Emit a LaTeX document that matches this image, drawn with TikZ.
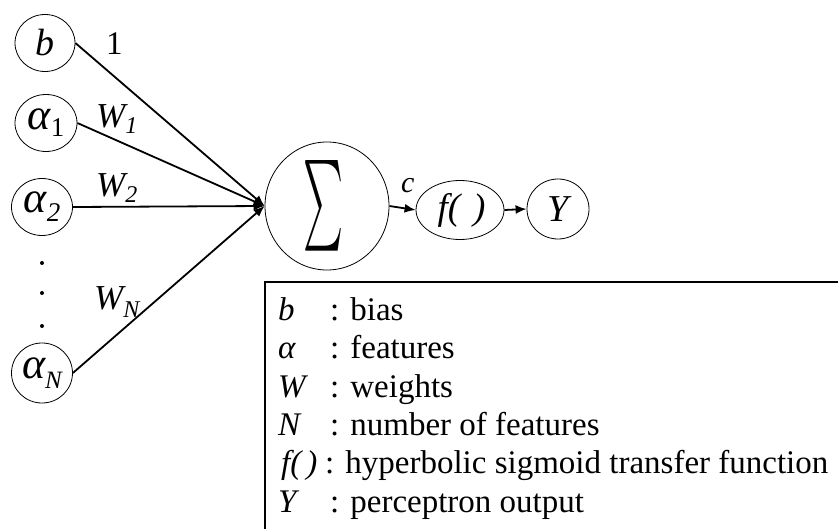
\documentclass[tikz,border=0pt]{standalone}
\usepackage{fontspec}
\setmainfont{Liberation Serif}
\usetikzlibrary{shapes.geometric,arrows.meta}
\newcommand\fs[1]{\fontsize{#1}{#1}\selectfont}
\begin{document}
\begin{tikzpicture}[x=1pt,y=-1pt,
  unit/.style={draw, ellipse, inner sep=0pt, line width=0.8pt},
  wire/.style={line width=1.8pt, -{Latex[length=11pt,width=9pt]}},
  lbl/.style={inner sep=0pt, anchor=base west},
  legend/.style={inner sep=0pt, anchor=base west, font=\fs{33}}]
\useasboundingbox (0,0) rectangle (838,529);

% input units
\node[unit, minimum width=60pt, minimum height=57pt] (b) at (45,43) {\fs{38}\itshape b};
\node[unit, minimum width=62pt, minimum height=57pt] (a1) at (46,123)
  {\fs{44}\itshape α\raisebox{-7pt}{\fs{27}\upshape 1}\hspace{2pt}};
\node[unit, minimum width=61pt, minimum height=57pt] (a2) at (42,207)
  {\fs{44}\itshape α\raisebox{-9pt}{\fs{27}2}\hspace{2pt}};
\node[unit, minimum width=61pt, minimum height=60pt] (aN) at (42,373)
  {\fs{44}\itshape α\raisebox{-10pt}{\fs{25}N}\hspace{2pt}};

% ellipsis between the inputs
\foreach \yy [count=\i] in {263,293,326}
  \fill (42,\yy) circle (2pt) coordinate (dot\i);

% summation, transfer function, output
\node[unit, minimum width=124pt, minimum height=128pt] (sum) at (327,206) {};
\node[inner sep=0pt] (sigma) at (323,206) {\resizebox{40pt}{68pt}{$\sum$}};
\node[unit, minimum width=88pt, minimum height=59pt] (f) at (460,210)
  {\fs{37}\itshape\hspace{3pt}f(\hspace{13pt})};
\node[unit, minimum width=62pt, minimum height=60pt] (Y) at (558,209) {\fs{38}\itshape Y};

% weighted connections
\draw[wire] (b.east)  -- (sum.west);
\draw[wire] (a1.east) -- (sum.west);
\draw[wire] (a2.east) -- (sum.west);
\draw[wire] (aN.east) -- (sum.west);
\draw[wire] (sum.east) -- (f.west);
\draw[wire] (f.east) -- (Y.west);

% weight labels
\node[lbl] (w0) at (106,55) {\fs{33}1};
\node[lbl] (w1) at (96,128) {\fs{35}\itshape W\raisebox{-6pt}{\fs{24}1}};
\node[lbl] (w2) at (96,197) {\fs{35}\itshape W\raisebox{-6pt}{\fs{24}2}};
\node[lbl] (wN) at (94,310) {\fs{35}\itshape W\raisebox{-8pt}{\fs{24}N}};
\node[lbl] (c) at (401,193) {\fs{30}\itshape c};

% legend frame (open to the right and bottom)
\draw[line width=1.5pt] (838,282) -- (265,282) -- (265,529);
\node[legend] (k1) at (278,320) {\itshape b};
\node[legend] (v1) at (330,320) {: bias};
\node[legend] (k2) at (278,358) {\itshape α};
\node[legend] (v2) at (330,358) {: features};
\node[legend] (k3) at (278,397) {\itshape W};
\node[legend] (v3) at (330,397) {: weights};
\node[legend] (k4) at (278,435) {\itshape N};
\node[legend] (v4) at (330,435) {: number of features};
\node[legend] (k5) at (281,473) {\itshape f(\hspace{5pt})};
\node[legend] (v5) at (325,473) {: hyperbolic sigmoid transfer function};
\node[legend] (k6) at (278,512) {\itshape Y};
\node[legend] (v6) at (330,512) {: perceptron output};
\end{tikzpicture}
\end{document}
